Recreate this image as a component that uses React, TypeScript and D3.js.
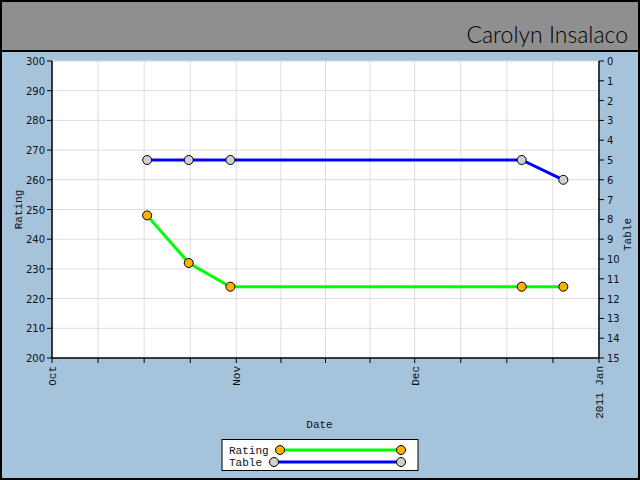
import React from 'react';
import * as d3 from 'd3';

const title = 'Carolyn Insalaco';
const dates = ['2010-10-17', '2010-10-24', '2010-10-31', '2010-12-19', '2010-12-26'];
const ratings = [248, 232, 224, 224, 224];
const tables = [5, 5, 5, 5, 6];
const monthLabels = ['Oct', 'Nov', 'Dec', '2011 Jan'];
const ratingTicks = [200, 210, 220, 230, 240, 250, 260, 270, 280, 290, 300];
const tableTicks = d3.range(0, 16);

const W = 640;
const H = 480;
const margin = { top: 61, right: 41, bottom: 122, left: 52 };

const parse = d3.timeParse('%Y-%m-%d');

const App = () => {
  const x = d3
    .scaleTime()
    .domain([new Date(2010, 9, 1), new Date(2011, 0, 1)])
    .range([margin.left, W - margin.right]);
  const yR = d3.scaleLinear().domain([200, 300]).range([H - margin.bottom, margin.top]);
  const yT = d3.scaleLinear().domain([15, 0]).range([H - margin.bottom, margin.top]);

  // month boundaries, each month split in 4
  const months = d3.timeMonth.range(new Date(2010, 9, 1), new Date(2011, 0, 2));
  const xTicks: number[] = [];
  months.forEach((m, i) => {
    if (i < months.length - 1) {
      const a = x(m);
      const b = x(months[i + 1]);
      for (let k = 0; k < 4; k++) xTicks.push(a + ((b - a) * k) / 4);
    } else xTicks.push(x(m));
  });

  const pts = dates.map((d, i) => ({ d: parse(d) as Date, r: ratings[i], t: tables[i] }));
  const ratingLine = d3
    .line<any>()
    .x((p) => x(p.d))
    .y((p) => yR(p.r));
  const tableLine = d3
    .line<any>()
    .x((p) => x(p.d))
    .y((p) => yT(p.t));

  const x0 = margin.left;
  const x1 = W - margin.right;
  const y0 = margin.top;
  const y1 = H - margin.bottom;
  const numFont = '"DejaVu Sans", sans-serif';
  const txtFont = '"Liberation Mono", monospace';

  return (
    <div style={{ position: 'absolute', left: 0, top: 0 }}>
      <svg width={W} height={H} style={{ display: 'block' }}>
        <rect x={0} y={0} width={W} height={H} fill="#a6c3dc" />
        <rect x={1} y={1} width={W - 2} height={50} fill="#8f8f8f" stroke="#000" strokeWidth={2} />
        <text
          x={628}
          y={43}
          textAnchor="end"
          fontFamily='Lato, "Open Sans", sans-serif'
          fontWeight={300}
          fontSize={23}
          fill="#000"
        >
          {title}
        </text>
        <rect x={1} y={1} width={W - 2} height={H - 2} fill="none" stroke="#000" strokeWidth={2} />

        {/* plot */}
        <rect x={x0} y={y0} width={x1 - x0} height={y1 - y0} fill="#fff" />
        {ratingTicks.map((v) => (
          <line key={'h' + v} x1={x0} x2={x1} y1={yR(v)} y2={yR(v)} stroke="#dcdcdc" />
        ))}
        {xTicks.map((v, i) => (
          <line key={'v' + i} x1={v} x2={v} y1={y0} y2={y1} stroke="#dcdcdc" />
        ))}

        {/* axes */}
        <line x1={x0} x2={x0} y1={y0} y2={y1} stroke="#000" strokeWidth={1.5} />
        <line x1={x1} x2={x1} y1={y0} y2={y1} stroke="#000" strokeWidth={1.5} />
        <line x1={x0} x2={x1} y1={y1} y2={y1} stroke="#000" strokeWidth={1.5} />
        {ratingTicks.map((v) => (
          <g key={'rt' + v}>
            <line x1={x0 - 5} x2={x0} y1={yR(v)} y2={yR(v)} stroke="#000" />
            <text x={x0 - 7} y={yR(v) + 4} textAnchor="end" fontFamily={numFont} fontSize={10} fill="#111">
              {v}
            </text>
          </g>
        ))}
        {tableTicks.map((v) => (
          <g key={'tt' + v}>
            <line x1={x1} x2={x1 + 5} y1={yT(v)} y2={yT(v)} stroke="#000" />
            <text x={x1 + 8} y={yT(v) + 4} fontFamily={numFont} fontSize={10} fill="#111">
              {v}
            </text>
          </g>
        ))}
        {xTicks.map((v, i) => (
          <line key={'xt' + i} x1={v} x2={v} y1={y1} y2={y1 + 5} stroke="#000" />
        ))}
        {months.map((m, i) => (
          <text
            key={'ml' + i}
            transform={`translate(${x(m) + 4},${y1 + 8}) rotate(-90)`}
            textAnchor="end"
            fontFamily={txtFont}
            fontSize={11}
            fill="#111"
          >
            {monthLabels[i]}
          </text>
        ))}

        <text transform={`translate(22,${(y0 + y1) / 2}) rotate(-90)`} textAnchor="middle" fontFamily={txtFont} fontSize={11} fill="#111">
          Rating
        </text>
        <text transform={`translate(631,${(y0 + y1) / 2 + 25}) rotate(-90)`} textAnchor="middle" fontFamily={txtFont} fontSize={11} fill="#111">
          Table
        </text>
        <text x={(x0 + x1) / 2 - 6} y={428} textAnchor="middle" fontFamily={txtFont} fontSize={11} fill="#111">
          Date
        </text>

        {/* series */}
        <path d={tableLine(pts) || ''} fill="none" stroke="#0000ff" strokeWidth={3} />
        <path d={ratingLine(pts) || ''} fill="none" stroke="#00ff00" strokeWidth={3} />
        {pts.map((p, i) => (
          <circle key={'tc' + i} cx={x(p.d)} cy={yT(p.t)} r={4.5} fill="#d0d0d0" stroke="#000" strokeWidth={1} />
        ))}
        {pts.map((p, i) => (
          <circle key={'rc' + i} cx={x(p.d)} cy={yR(p.r)} r={4.5} fill="#ffb000" stroke="#000" strokeWidth={1} />
        ))}

        {/* legend */}
        <rect x={222} y={439.5} width={196} height={31} fill="#fff" stroke="#000" strokeWidth={1} />
        <text x={229} y={454} fontFamily={txtFont} fontSize={11} fill="#111">
          Rating
        </text>
        <text x={229} y={466} fontFamily={txtFont} fontSize={11} fill="#111">
          Table
        </text>
        <line x1={280} x2={401} y1={450} y2={450} stroke="#00ff00" strokeWidth={3} />
        <circle cx={280} cy={450} r={4.5} fill="#ffb000" stroke="#000" />
        <circle cx={401} cy={450} r={4.5} fill="#ffb000" stroke="#000" />
        <line x1={274} x2={401} y1={462} y2={462} stroke="#0000ff" strokeWidth={3} />
        <circle cx={274} cy={462} r={4.5} fill="#d0d0d0" stroke="#000" />
        <circle cx={401} cy={462} r={4.5} fill="#d0d0d0" stroke="#000" />
      </svg>
    </div>
  );
};

export default App;
